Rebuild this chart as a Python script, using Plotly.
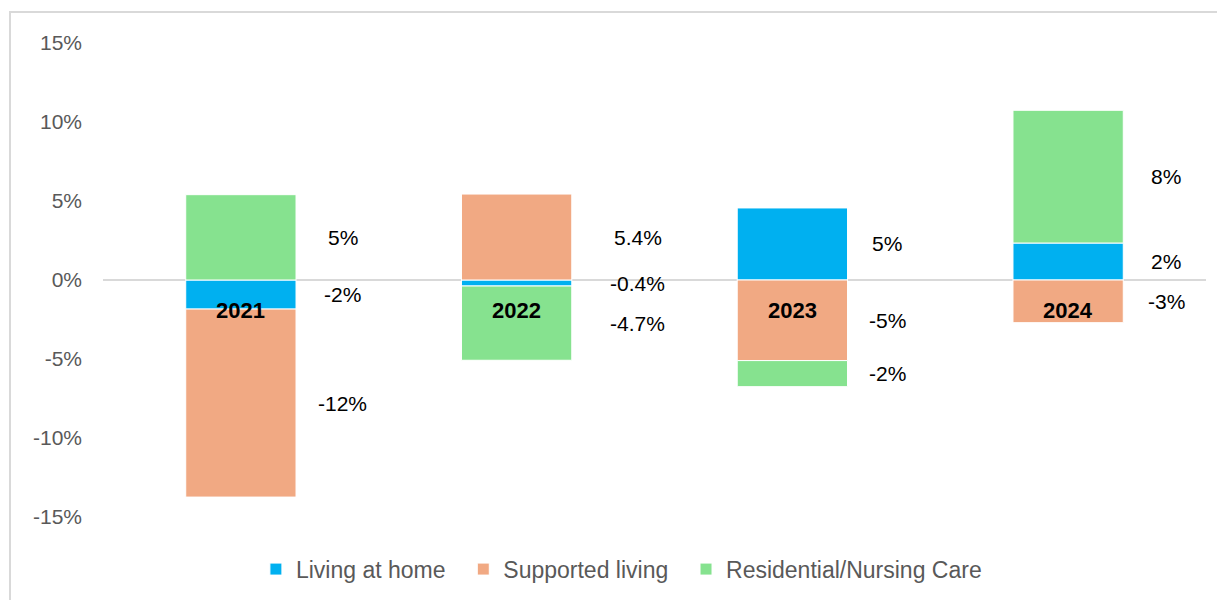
import plotly.graph_objects as go

years = ["2021", "2022", "2023", "2024"]
living_at_home = [-0.0184, -0.0038, 0.0456, 0.0234]
supported_living = [-0.119, 0.0544, -0.051, -0.027]
residential_care = [0.054, -0.047, -0.0165, 0.084]

living_labels = ["-2%", "-0.4%", "5%", "2%"]
supported_labels = ["-12%", "5.4%", "-5%", "-3%"]
residential_labels = ["5%", "-4.7%", "-2%", "8%"]

y_ticks = [-0.15, -0.10, -0.05, 0, 0.05, 0.10, 0.15]
y_tick_text = ["-15%", "-10%", "-5%", "0%", "5%", "10%", "15%"]

BLUE = "#00B0F0"
ORANGE = "#F1A983"
GREEN = "#86E28F"
FONT = "Liberation Sans, Arial, sans-serif"
PAD = "\u00a0\u00a0"  # extra room between legend entries

fig = go.Figure()
for name, vals, col in [("Living at home" + PAD, living_at_home, BLUE),
                        ("Supported living" + PAD, supported_living, ORANGE),
                        ("Residential/Nursing Care", residential_care, GREEN)]:
    fig.add_trace(go.Bar(
        x=years, y=vals, name=name, width=0.4,
        marker=dict(color=col, line=dict(color="white", width=1)),
        hoverinfo="skip",
    ))

# labels sit right of each bar, at the middle of its segment
# (x given as category index: year strings would be read as numbers)
label_shift = [102, 121, 95, 98]
for i, yr in enumerate(years):
    pos, neg = 0.0, 0.0
    for vals, labs in [(living_at_home, living_labels),
                       (supported_living, supported_labels),
                       (residential_care, residential_labels)]:
        v = vals[i]
        if v >= 0:
            mid = pos + v / 2
            pos += v
        else:
            mid = neg + v / 2
            neg += v
        fig.add_annotation(x=i, y=mid, text=labs[i], showarrow=False,
                           xshift=label_shift[i],
                           font=dict(family=FONT, size=21, color="black"))
    fig.add_annotation(x=i, y=-0.019, text="<b>" + yr + "</b>", showarrow=False,
                       font=dict(family=FONT, size=22, color="black"))

# outer chart frame
fig.add_shape(type="rect", xref="paper", yref="paper",
              x0=-0.0843, x1=1.05, y0=-0.3, y1=1.0654,
              line=dict(color="#D9D9D9", width=2), fillcolor="rgba(0,0,0,0)")

fig.update_layout(
    barmode="relative",
    width=1225, height=600,
    margin=dict(l=95, r=27, t=35, b=91),
    paper_bgcolor="white", plot_bgcolor="white",
    xaxis=dict(type="category", range=[-0.5, 3.5], showticklabels=False,
               showgrid=False, zeroline=False, showline=False, ticks="",
               automargin=False),
    yaxis=dict(range=[-0.15, 0.15], tickvals=y_ticks, ticktext=y_tick_text,
               showgrid=False, zeroline=True,
               zerolinecolor="#D9D9D9", zerolinewidth=2,
               ticklabelstandoff=20, automargin=False,
               tickfont=dict(family=FONT, size=21, color="#595959")),
    legend=dict(orientation="h", x=0.47, xanchor="center", y=-0.11, yanchor="middle",
                font=dict(family=FONT, size=23, color="#595959"),
                itemwidth=30, traceorder="normal"),
    showlegend=True,
)

fig.write_html("out.html")
